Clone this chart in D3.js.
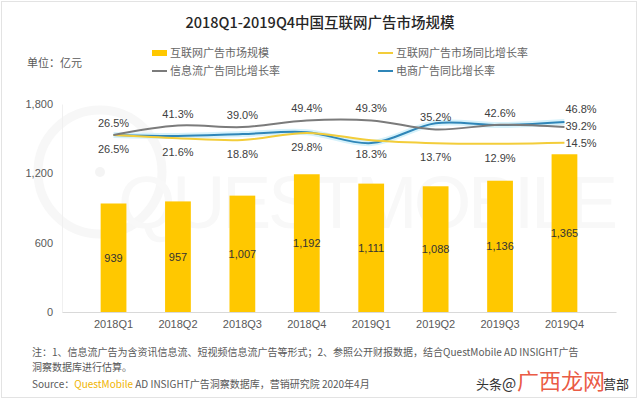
<!DOCTYPE html>
<html>
<head>
<meta charset="utf-8">
<script src="https://cdn.jsdelivr.net/npm/d3@7"></script>
<style>
  body { margin: 0; background: #fff; }
  svg { display: block; font-family: "Noto Sans CJK SC", "Liberation Sans", sans-serif; }
  .num { font-family: "Liberation Sans", Arial, sans-serif; }
</style>
</head>
<body>
<div id="chart"></div>
<script>
// data
var quarters = ["2018Q1", "2018Q2", "2018Q3", "2018Q4", "2019Q1", "2019Q2", "2019Q3", "2019Q4"];
var marketSize = [939, 957, 1007, 1192, 1111, 1088, 1136, 1365];
var marketGrowth = [26.5, 21.6, 18.8, 29.8, 18.3, 13.7, 12.9, 14.5];
var feedGrowth = [26.5, 41.3, 39.0, 49.4, 49.3, 35.2, 42.6, 39.2];
var ecomGrowth = [26.5, 25, 28, 31, 14, 45, 42, 46.8];
var yTicks = [0, 600, 1200, 1800];

var W = 640, H = 399;
var plotL = 62, plotR = 616, plotT = 104, plotB = 312;

var svg = d3.select("#chart").append("svg")
    .attr("width", W).attr("height", H);

// frame
svg.append("rect").attr("x", 1.5).attr("y", 1.5)
    .attr("width", W - 5).attr("height", H - 3)
    .attr("fill", "#fff").attr("stroke", "#e3e3e3");

// watermark
var wm = svg.append("g").attr("fill", "none").attr("stroke", "#f7f7f7");
wm.append("circle").attr("cx", 100).attr("cy", 172).attr("r", 62).attr("stroke-width", 9);
wm.append("circle").attr("cx", 100).attr("cy", 172).attr("r", 5).attr("fill", "#f4f4f4").attr("stroke", "none");
svg.append("text").attr("x", 118).attr("y", 228)
    .attr("font-size", 74).attr("fill", "#f8f8f8")
    .attr("textLength", 500).attr("font-family", "Liberation Sans")
    .text("QUESTMOBILE");

// title
svg.append("text").attr("x", 320).attr("y", 28)
    .attr("text-anchor", "middle").attr("font-size", 14.5).attr("font-weight", 500)
    .attr("fill", "#262626").text("2018Q1-2019Q4中国互联网广告市场规模");

svg.append("text").attr("x", 27).attr("y", 67)
    .attr("font-size", 11).attr("fill", "#595959").text("单位：亿元");

// legend
var legend = [
  { name: "互联网广告市场规模", type: "rect", color: "#ffc800", x: 152, y: 53 },
  { name: "互联网广告市场同比增长率", type: "line", color: "#f3cd3a", x: 378, y: 53 },
  { name: "信息流广告同比增长率", type: "line", color: "#7b7b7b", x: 152, y: 71 },
  { name: "电商广告同比增长率", type: "line", color: "#2f86b8", x: 378, y: 71 }
];
var lg = svg.selectAll(".lg").data(legend).enter().append("g")
    .attr("transform", function(d) { return "translate(" + d.x + "," + d.y + ")"; });
lg.each(function(d) {
  var g = d3.select(this);
  if (d.type == "rect")
    g.append("rect").attr("x", 0).attr("y", -3).attr("width", 15).attr("height", 6).attr("fill", d.color);
  else
    g.append("line").attr("x1", 0).attr("x2", 15).attr("stroke", d.color).attr("stroke-width", 2);
});
lg.append("text").attr("x", 18).attr("dy", "0.35em")
    .attr("font-size", 11).attr("fill", "#666")
    .text(function(d) { return d.name; });

// scales
var x = d3.scaleBand().domain(quarters).range([plotL, plotR]).padding(0.6);
var y = d3.scaleLinear().domain([0, 1800]).range([plotB, plotT]);
var y2 = d3.scaleLinear().domain([-250, 75]).range([plotB, plotT]);

// y axis
var yAxis = svg.append("g").attr("transform", "translate(" + plotL + ",0)")
    .call(d3.axisLeft(y).tickValues(yTicks).tickSize(0).tickPadding(9).tickFormat(d3.format(",")));
yAxis.select(".domain").attr("stroke", "#f0f0f0");
yAxis.selectAll("text").attr("class", "num").attr("font-size", 11).attr("fill", "#595959");

// bars
svg.selectAll(".bar").data(marketSize).enter().append("rect")
    .attr("x", function(d, i) { return x(quarters[i]); })
    .attr("y", function(d) { return y(d); })
    .attr("width", x.bandwidth())
    .attr("height", function(d) { return y(0) - y(d); })
    .attr("fill", "#ffc800");

svg.selectAll(".barlbl").data(marketSize).enter().append("text")
    .attr("class", "num")
    .attr("x", function(d, i) { return x(quarters[i]) + x.bandwidth() / 2; })
    .attr("y", function(d) { return (y(d) + y(0)) / 2 + 4; })
    .attr("text-anchor", "middle").attr("font-size", 11).attr("fill", "#333")
    .text(d3.format(","));

// x axis
var xAxis = svg.append("g").attr("transform", "translate(0," + plotB + ")")
    .call(d3.axisBottom(x).tickSize(0).tickPadding(8));
xAxis.select(".domain").attr("stroke", "#d9d9d9");
xAxis.selectAll("text").attr("class", "num").attr("font-size", 11).attr("fill", "#595959");

// lines
var cx = function(i) { return x(quarters[i]) + x.bandwidth() / 2; };
var line = d3.line()
    .x(function(d, i) { return cx(i); })
    .y(function(d) { return y2(d); })
    .curve(d3.curveCatmullRom.alpha(0.5));

svg.append("path").datum(ecomGrowth).attr("d", line)
    .attr("fill", "none").attr("stroke", "#d6f2fb").attr("stroke-width", 6);
svg.append("path").datum(ecomGrowth).attr("d", line)
    .attr("fill", "none").attr("stroke", "#2f86b8").attr("stroke-width", 2);
svg.append("path").datum(marketGrowth).attr("d", line)
    .attr("fill", "none").attr("stroke", "#f3cd3a").attr("stroke-width", 2);
svg.append("path").datum(feedGrowth).attr("d", line)
    .attr("fill", "none").attr("stroke", "#7b7b7b").attr("stroke-width", 2);

// rate labels
var pct = function(v) { return v.toFixed(1) + "%"; };
var last = quarters.length - 1;
svg.selectAll(".feedlbl").data(feedGrowth.slice(0, last)).enter().append("text")
    .attr("class", "num").attr("text-anchor", "middle").attr("font-size", 11).attr("fill", "#404040")
    .attr("x", function(d, i) { return cx(i); })
    .attr("y", function(d) { return y2(d) - 8; })
    .text(pct);
svg.selectAll(".mktlbl").data(marketGrowth.slice(0, last)).enter().append("text")
    .attr("class", "num").attr("text-anchor", "middle").attr("font-size", 11).attr("fill", "#404040")
    .attr("x", function(d, i) { return cx(i); })
    .attr("y", function(d) { return y2(d) + 18; })
    .text(pct);

// end labels
var ends = [
  { v: ecomGrowth[last], dy: -9 },
  { v: feedGrowth[last], dy: 3 },
  { v: marketGrowth[last], dy: 4 }
];
svg.selectAll(".endlbl").data(ends).enter().append("text")
    .attr("class", "num").attr("font-size", 11).attr("fill", "#404040")
    .attr("x", cx(last) + 1)
    .attr("y", function(d) { return y2(d.v) + d.dy; })
    .text(function(d) { return pct(d.v); });

// notes
var notes = svg.append("g").attr("font-size", 10).attr("fill", "#595959");
notes.append("text").attr("x", 32).attr("y", 356)
    .text("注：1、信息流广告为含资讯信息流、短视频信息流广告等形式；2、参照公开财报数据，结合QuestMobile AD INSIGHT广告");
notes.append("text").attr("x", 32).attr("y", 371).text("洞察数据库进行估算。");
var src = notes.append("text").attr("x", 32).attr("y", 388);
src.append("tspan").text("Source：");
src.append("tspan").attr("fill", "#f0b400").text("QuestMobile");
src.append("tspan").text(" AD INSIGHT广告洞察数据库，营销研究院 2020年4月");

// overlay watermark
var ov = svg.append("g");
ov.append("text").attr("x", 476).attr("y", 389).attr("font-size", 13).attr("fill", "#333").text("头条");
ov.append("text").attr("x", 502).attr("y", 389).attr("font-size", 15).attr("fill", "#333").text("@");
ov.append("text").attr("x", 517).attr("y", 389).attr("font-size", 22).attr("fill", "#e8452c")
    .attr("fill-opacity", 0.9).text("广西龙网");
ov.append("text").attr("x", 603).attr("y", 389).attr("font-size", 13).attr("fill", "#333").text("营部");
</script>
</body>
</html>
